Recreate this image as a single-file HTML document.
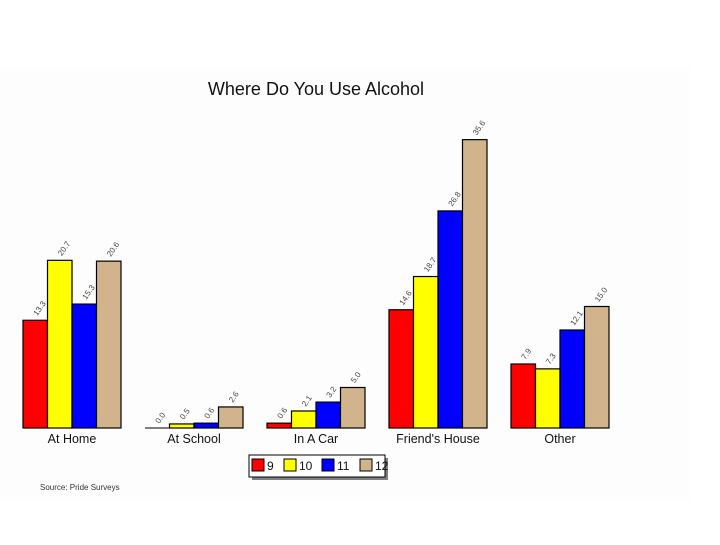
<!DOCTYPE html>
<html><head><meta charset="utf-8"><style>
body{margin:0;background:#fff;}
svg text{font-family:"Liberation Sans",sans-serif;}
</style></head><body>
<svg id="chart" width="720" height="540" xmlns="http://www.w3.org/2000/svg">
<rect x="0" y="68" width="690" height="432" fill="#fdfdfd"/>
<text x="316" y="95" font-size="18" text-anchor="middle" fill="#111">Where Do You Use Alcohol</text>
<g id="bars"></g>
<g>
<rect x="252" y="458" width="136" height="22" fill="#808080"/>
<rect x="249" y="455" width="136" height="22" fill="#fff" stroke="#000"/>
<g id="legend-items"></g>
</g>
<text x="40" y="490" font-size="8" fill="#333">Source: Pride Surveys</text>
</svg>
<script>
const categories=["At Home","At School","In A Car","Friend's House","Other"];
const series=["9","10","11","12"];
const grade9=[13.3,0.0,0.6,14.6,7.9];
const grade10=[20.7,0.5,2.1,18.7,7.3];
const grade11=[15.3,0.6,3.2,26.8,12.1];
const grade12=[20.6,2.6,5.0,35.6,15.0];
const colors=["#ff0000","#ffff00","#0000ff","#d2b48c"];
const vals=[grade9,grade10,grade11,grade12];
const ns="http://www.w3.org/2000/svg";
const base=428,scale=8.1,x0=23,groupStep=122,barW=24.5;
function y(v){return base-v*scale;}
function gx(i){return x0+i*groupStep;}
const g=document.getElementById('bars');
categories.forEach((c,i)=>{
  vals.forEach((arr,s)=>{
    const v=arr[i];const bx=gx(i)+s*barW;const h=Math.max(v*scale,0);
    const r=document.createElementNS(ns,'rect');
    
    
    r.setAttribute('x',bx);r.setAttribute('y',y(v));r.setAttribute('width',barW);r.setAttribute('height',h);
    r.setAttribute('fill',colors[s]);r.setAttribute('stroke','#000');r.setAttribute('stroke-width','1.2');
    g.appendChild(r);
    const t=document.createElementNS(ns,'text');
    
    
    const tx=bx+barW/2+2,ty=y(v)-4;
    t.setAttribute('x',tx);t.setAttribute('y',ty);t.setAttribute('font-size','8');t.setAttribute('fill','#444');
    t.setAttribute('transform','rotate(-55 '+tx+' '+ty+')');
    t.textContent=v.toFixed(1);g.appendChild(t);
  });
  const ax=document.createElementNS(ns,'line');
  
  
  ax.setAttribute('x1',gx(i));ax.setAttribute('x2',gx(i)+4*barW);ax.setAttribute('y1',base);ax.setAttribute('y2',base);ax.setAttribute('stroke','#000');
  g.appendChild(ax);
  const l=document.createElementNS(ns,'text');
  
  
  l.setAttribute('x',gx(i)+2*barW);l.setAttribute('y',443);l.setAttribute('font-size','12.5');l.setAttribute('text-anchor','middle');l.setAttribute('fill','#111');
  l.textContent=c;g.appendChild(l);
});
const lg=document.getElementById('legend-items');
const lx=[252,284,322,360];
series.forEach((s,k)=>{
  const r=document.createElementNS(ns,'rect');
  
  
  r.setAttribute('x',lx[k]);r.setAttribute('y',459);r.setAttribute('width',12);r.setAttribute('height',12);
  r.setAttribute('fill',colors[k]);r.setAttribute('stroke','#000');lg.appendChild(r);
  const t=document.createElementNS(ns,'text');
  
  
  t.setAttribute('x',lx[k]+15);t.setAttribute('y',470);t.setAttribute('font-size','12');t.setAttribute('fill','#111');
  t.textContent=s;lg.appendChild(t);
});
</script>
</body></html>
